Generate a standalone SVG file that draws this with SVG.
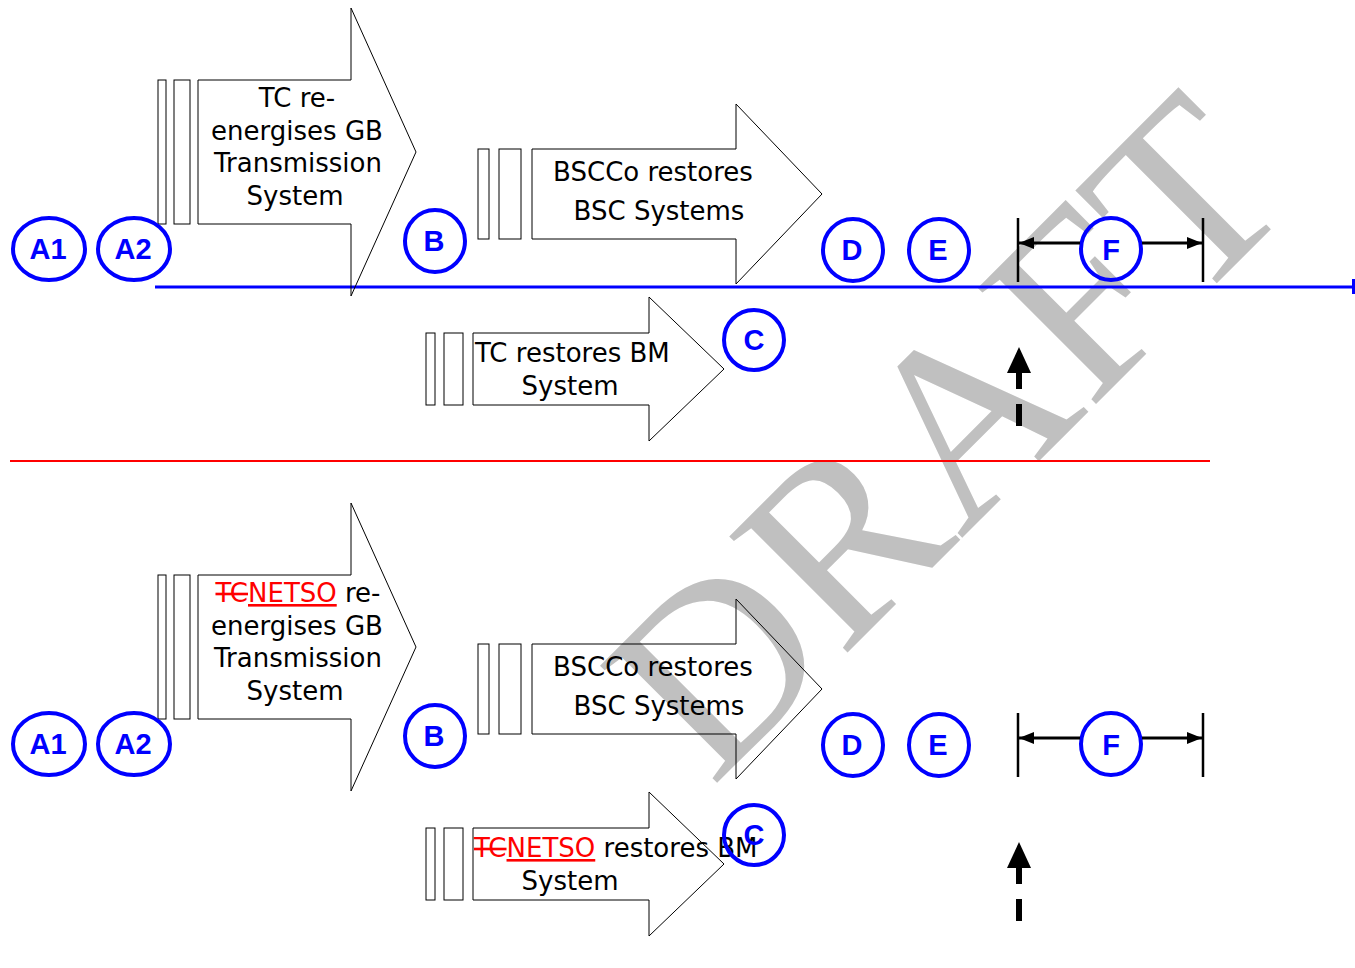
<svg xmlns="http://www.w3.org/2000/svg" width="1355" height="968" viewBox="0 0 1355 968">
<style>
.wm{font-family:"Liberation Serif","Times New Roman",serif;font-size:253px;fill:#c0c0c0}
.shape{fill:none;stroke:#000;stroke-width:1}
.lbl{font-family:"DejaVu Sans",Verdana,sans-serif;font-size:26px;fill:#000}
.ms{text-anchor:middle}
.red{fill:#ff0000}
.circ{fill:none;stroke:#0000ff;stroke-width:4}
.ct{font-family:"Liberation Sans",Arial,sans-serif;font-weight:bold;font-size:29px;fill:#0000ff;text-anchor:middle}
.bar{stroke:#000;stroke-width:2.5}
.dim{stroke:#000;stroke-width:3;fill:none}
.dash{stroke:#000;stroke-width:6;fill:none}
</style>
<defs>
<marker id="ah" markerUnits="userSpaceOnUse" markerWidth="16" markerHeight="14" refX="15" refY="6" orient="auto">
<path d="M0,0 L15,6 L0,12 Z" fill="#000"/>
</marker>
</defs>
<rect width="1355" height="968" fill="#fff"/>
<text class="wm" transform="translate(712,788) rotate(-45)">DRAFT</text>

<g id="timeline">
<line x1="155" y1="287" x2="1352" y2="287" stroke="#0000ff" stroke-width="3"/>
<rect x="1352" y="279" width="3" height="15" fill="#0000ff"/>
</g>
<g id="divider">
<line x1="10" y1="461" x2="1210" y2="461" stroke="#ff0000" stroke-width="2"/>
</g>

<!-- TOP HALF -->
<g id="top-arrow-tc-reenergises">
<rect class="shape" x="158" y="80" width="8" height="144"/>
<rect class="shape" x="174" y="80" width="16" height="144"/>
<polygon class="shape" points="198,80 351,80 351,8 416,152 351,296 351,224 198,224"/>
<text class="lbl ms" x="297" y="107">TC re-</text>
<text class="lbl ms" x="297" y="139.5">energises GB</text>
<text class="lbl ms" x="298" y="172">Transmission</text>
<text class="lbl ms" x="295" y="204.5">System</text>
</g>
<g id="top-arrow-bscco">
<rect class="shape" x="478" y="149" width="11" height="90"/>
<rect class="shape" x="499" y="149" width="22" height="90"/>
<polygon class="shape" points="532,149 736,149 736,104 822,194 736,284 736,239 532,239"/>
<text class="lbl ms" x="653" y="181">BSCCo restores</text>
<text class="lbl ms" x="659" y="220">BSC Systems</text>
</g>
<g id="top-arrow-tc-bm">
<rect class="shape" x="426" y="333" width="9" height="72"/>
<rect class="shape" x="444" y="333" width="19" height="72"/>
<polygon class="shape" points="473,333 649,333 649,297 724,369 649,441 649,405 473,405"/>
<text class="lbl" x="475" y="362">TC restores BM</text>
<text class="lbl ms" x="570" y="395">System</text>
</g>

<g id="top-A1"><ellipse class="circ" cx="49" cy="249" rx="36" ry="31"/><text class="ct" x="48" y="259">A1</text></g>
<g id="top-A2"><ellipse class="circ" cx="134" cy="249" rx="36" ry="31"/><text class="ct" x="133" y="259">A2</text></g>
<g id="top-B"><ellipse class="circ" cx="435" cy="241" rx="30" ry="31"/><text class="ct" x="434" y="251">B</text></g>
<g id="top-C"><ellipse class="circ" cx="754" cy="340" rx="30" ry="30"/><text class="ct" x="754" y="350">C</text></g>
<g id="top-D"><ellipse class="circ" cx="853" cy="250" rx="30" ry="31"/><text class="ct" x="852" y="260">D</text></g>
<g id="top-E"><ellipse class="circ" cx="939" cy="250" rx="30" ry="31"/><text class="ct" x="938" y="260">E</text></g>
<g id="top-F"><ellipse class="circ" cx="1111" cy="249" rx="30" ry="31"/><text class="ct" x="1111" y="260">F</text></g>

<!-- BOTTOM HALF -->
<g id="bottom-arrow-netso-reenergises">
<rect class="shape" x="158" y="575" width="8" height="144"/>
<rect class="shape" x="174" y="575" width="16" height="144"/>
<polygon class="shape" points="198,575 351,575 351,503 416,647 351,791 351,719 198,719"/>
<text class="lbl ms" x="298" y="602"><tspan class="red" text-decoration="line-through">TC</tspan><tspan class="red" text-decoration="underline">NETSO</tspan> re-</text>
<text class="lbl ms" x="297" y="634.5">energises GB</text>
<text class="lbl ms" x="298" y="667">Transmission</text>
<text class="lbl ms" x="295" y="699.5">System</text>
</g>
<g id="bottom-arrow-bscco">
<rect class="shape" x="478" y="644" width="11" height="90"/>
<rect class="shape" x="499" y="644" width="22" height="90"/>
<polygon class="shape" points="532,644 736,644 736,599 822,689 736,779 736,734 532,734"/>
<text class="lbl ms" x="653" y="676">BSCCo restores</text>
<text class="lbl ms" x="659" y="715">BSC Systems</text>
</g>
<g id="bottom-arrow-netso-bm">
<rect class="shape" x="426" y="828" width="9" height="72"/>
<rect class="shape" x="444" y="828" width="19" height="72"/>
<polygon class="shape" points="473,828 649,828 649,792 724,864 649,936 649,900 473,900"/>
<text class="lbl" x="474" y="857"><tspan class="red" text-decoration="line-through">TC</tspan><tspan class="red" text-decoration="underline">NETSO</tspan> restores BM</text>
<text class="lbl ms" x="570" y="890">System</text>
</g>

<g id="bottom-A1"><ellipse class="circ" cx="49" cy="744" rx="36" ry="31"/><text class="ct" x="48" y="754">A1</text></g>
<g id="bottom-A2"><ellipse class="circ" cx="134" cy="744" rx="36" ry="31"/><text class="ct" x="133" y="754">A2</text></g>
<g id="bottom-B"><ellipse class="circ" cx="435" cy="736" rx="30" ry="31"/><text class="ct" x="434" y="746">B</text></g>
<g id="bottom-C"><ellipse class="circ" cx="754" cy="835" rx="30" ry="30"/><text class="ct" x="754" y="845">C</text></g>
<g id="bottom-D"><ellipse class="circ" cx="853" cy="745" rx="30" ry="31"/><text class="ct" x="852" y="755">D</text></g>
<g id="bottom-E"><ellipse class="circ" cx="939" cy="745" rx="30" ry="31"/><text class="ct" x="938" y="755">E</text></g>
<g id="bottom-F"><ellipse class="circ" cx="1111" cy="744" rx="30" ry="31"/><text class="ct" x="1111" y="755">F</text></g>

<g id="connectors">
<!-- top F span -->
<line class="bar" x1="1018" y1="218" x2="1018" y2="282"/>
<line class="bar" x1="1203" y1="218" x2="1203" y2="282"/>
<line class="dim" x1="1080" y1="243" x2="1019" y2="243" marker-end="url(#ah)"/>
<line class="dim" x1="1142" y1="243" x2="1202" y2="243" marker-end="url(#ah)"/>
<!-- top dashed up arrow -->
<path class="dash" d="M1019,426 V404 M1019,389 V370"/>
<polygon points="1019,347 1031,373 1007,373" fill="#000"/>
<!-- bottom F span -->
<line class="bar" x1="1018" y1="713" x2="1018" y2="777"/>
<line class="bar" x1="1203" y1="713" x2="1203" y2="777"/>
<line class="dim" x1="1080" y1="738" x2="1019" y2="738" marker-end="url(#ah)"/>
<line class="dim" x1="1142" y1="738" x2="1202" y2="738" marker-end="url(#ah)"/>
<!-- bottom dashed up arrow -->
<path class="dash" d="M1019,921 V899 M1019,884 V865"/>
<polygon points="1019,842 1031,868 1007,868" fill="#000"/>
</g>
</svg>
